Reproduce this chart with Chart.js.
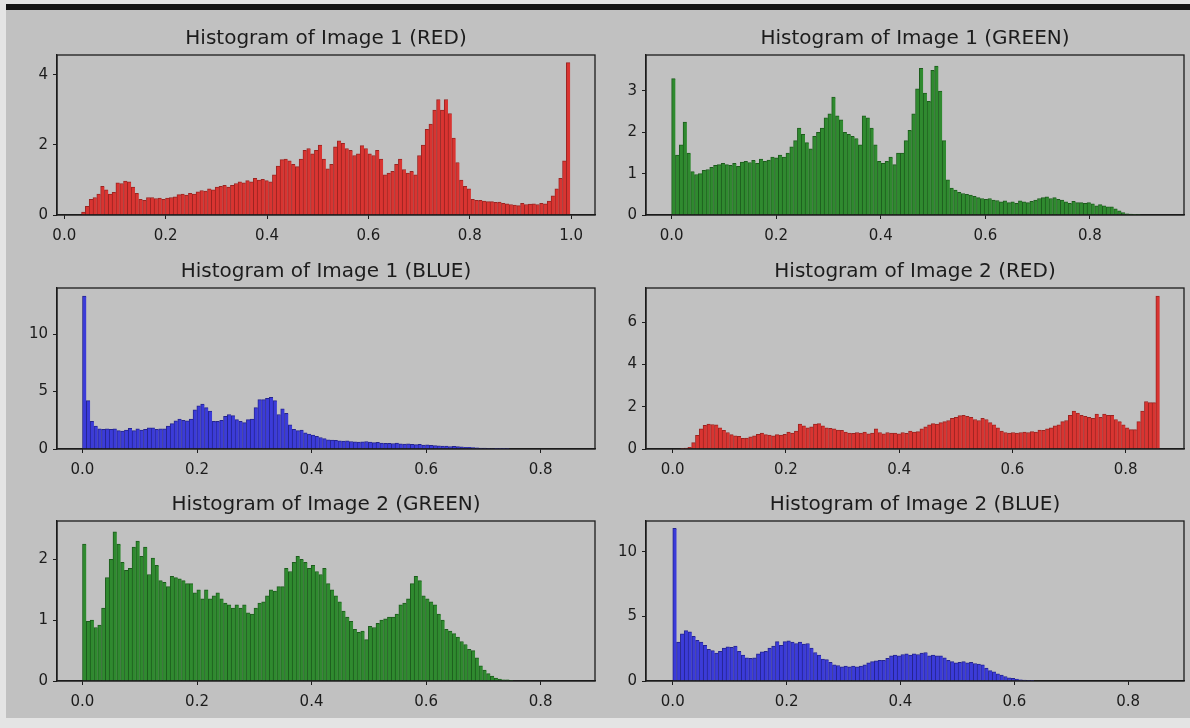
<!DOCTYPE html>
<html><head><meta charset="utf-8">
<script src="https://cdn.jsdelivr.net/npm/chart.js@4.4.1/dist/chart.umd.min.js"></script>
<style>
html,body{margin:0;padding:0;background:#e4e4e4;width:1190px;height:728px;overflow:hidden;}
#panel{position:absolute;left:6px;top:10px;width:1184px;height:708px;background:#c1c1c1;}
#topbar{position:absolute;left:6px;top:4px;width:1184px;height:6px;background:#161616;}
canvas{position:absolute;}
</style></head><body>
<div id="panel"></div><div id="topbar"></div>
<script>
// ---------------- DATA ----------------
const titles = ["Histogram of Image 1 (RED)","Histogram of Image 1 (GREEN)","Histogram of Image 1 (BLUE)",
                "Histogram of Image 2 (RED)","Histogram of Image 2 (GREEN)","Histogram of Image 2 (BLUE)"];

// histogram bin ranges [first edge, last edge]
const red1Range = [0.034, 0.998];
const green1Range = [0.0, 0.933];
const blue1Range = [0.0, 0.852];
const red2Range = [0.0, 0.86];
const green2Range = [0.0, 0.852];
const blue2Range = [0.0, 0.855];

// density values per bin (128 bins each)
const red1Values = [
0.08,0.25,0.45,0.5,0.6,0.82,0.72,0.6,0.65,0.92,0.9,0.97,0.95,0.8,0.62,0.45,
0.42,0.5,0.5,0.47,0.48,0.45,0.48,0.5,0.52,0.58,0.6,0.57,0.62,0.6,0.66,0.7,
0.68,0.75,0.72,0.8,0.82,0.85,0.8,0.85,0.9,0.95,0.92,0.98,0.95,1.05,1.0,1.02,
0.98,0.95,1.15,1.4,1.58,1.6,1.55,1.45,1.38,1.6,1.85,1.9,1.75,1.85,2.0,1.6,
1.32,1.45,1.95,2.12,2.05,1.9,1.85,1.7,1.75,1.98,1.9,1.75,1.7,1.85,1.6,1.15,
1.2,1.25,1.45,1.6,1.3,1.2,1.25,1.15,1.7,2.0,2.45,2.6,3.0,3.3,3.0,3.3,
2.9,2.2,1.5,1.0,0.82,0.75,0.45,0.42,0.42,0.4,0.38,0.38,0.36,0.37,0.33,0.32,
0.3,0.28,0.27,0.33,0.3,0.31,0.32,0.3,0.33,0.32,0.4,0.55,0.75,1.05,1.55,4.35];

const green1Values = [
3.3,1.45,1.7,2.25,1.5,1.05,0.98,1.0,1.08,1.1,1.15,1.2,1.22,1.25,1.22,1.2,
1.25,1.18,1.28,1.3,1.27,1.32,1.25,1.35,1.3,1.33,1.4,1.38,1.45,1.4,1.5,1.65,
1.8,2.1,1.95,1.75,1.6,1.9,2.0,2.1,2.35,2.45,2.85,2.4,2.3,2.0,1.95,1.9,
1.85,1.7,2.4,2.35,2.1,1.7,1.3,1.25,1.3,1.4,1.22,1.5,1.5,1.8,2.05,2.45,
3.05,3.55,2.95,2.75,3.5,3.6,3.0,1.8,0.85,0.65,0.6,0.55,0.52,0.5,0.48,0.45,
0.42,0.4,0.38,0.4,0.36,0.35,0.32,0.34,0.3,0.32,0.28,0.34,0.32,0.3,0.33,0.36,
0.4,0.42,0.44,0.4,0.42,0.38,0.36,0.32,0.28,0.33,0.3,0.3,0.28,0.3,0.27,0.22,
0.25,0.22,0.2,0.2,0.15,0.1,0.06,0.03,0.02,0.01,0.005,0,0,0,0,0];

const blue1Values = [
13.3,4.2,2.4,2.0,1.75,1.7,1.75,1.7,1.75,1.6,1.55,1.65,1.8,1.6,1.75,1.65,
1.7,1.85,1.85,1.7,1.75,1.75,2.0,2.2,2.45,2.6,2.5,2.45,2.6,3.4,3.75,3.9,
3.6,3.3,2.4,2.4,2.5,2.85,3.0,2.9,2.55,2.4,2.3,2.55,2.6,3.6,4.3,4.3,
4.4,4.5,4.2,3.0,3.5,3.1,2.1,1.7,1.6,1.65,1.4,1.3,1.2,1.1,1.0,0.9,
0.8,0.78,0.75,0.7,0.68,0.7,0.65,0.62,0.6,0.62,0.65,0.6,0.55,0.58,0.52,0.5,
0.5,0.48,0.52,0.45,0.42,0.45,0.4,0.38,0.4,0.35,0.36,0.32,0.3,0.28,0.25,0.25,
0.22,0.24,0.2,0.18,0.15,0.14,0.12,0.1,0.08,0.08,0.06,0.04,0.02,0.01,0.01,0.005,
0,0,0,0,0,0,0,0,0,0,0,0,0,0,0,0];

const red2Values = [
0,0,0.01,0.04,0.08,0.3,0.65,0.95,1.12,1.18,1.16,1.14,1.0,0.88,0.78,0.68,
0.62,0.6,0.5,0.52,0.58,0.62,0.7,0.75,0.68,0.66,0.62,0.68,0.66,0.7,0.8,0.75,
0.85,1.18,1.1,1.0,1.05,1.18,1.2,1.1,1.0,0.98,0.95,0.9,0.88,0.8,0.75,0.74,
0.78,0.75,0.8,0.72,0.75,0.95,0.78,0.72,0.78,0.75,0.75,0.72,0.78,0.74,0.85,0.8,
0.82,0.95,1.05,1.15,1.2,1.18,1.25,1.3,1.35,1.45,1.5,1.58,1.6,1.55,1.5,1.4,
1.35,1.45,1.4,1.25,1.15,1.0,0.85,0.78,0.75,0.78,0.75,0.78,0.8,0.78,0.82,0.8,
0.9,0.88,0.95,1.0,1.1,1.15,1.3,1.35,1.6,1.8,1.7,1.6,1.55,1.5,1.45,1.65,
1.5,1.65,1.6,1.6,1.4,1.3,1.15,1.0,0.92,0.92,1.3,1.8,2.25,2.2,2.2,7.25];

const green2Values = [
2.25,0.98,1.0,0.88,0.92,1.2,1.7,2.0,2.45,2.25,1.95,1.82,1.85,2.2,2.3,2.05,
2.2,1.75,2.02,1.9,1.65,1.62,1.55,1.72,1.7,1.68,1.65,1.6,1.6,1.45,1.5,1.35,
1.5,1.35,1.4,1.45,1.35,1.28,1.25,1.2,1.25,1.2,1.25,1.12,1.1,1.2,1.28,1.3,
1.4,1.5,1.48,1.55,1.55,1.85,1.8,1.95,2.05,2.0,1.95,1.85,1.9,1.8,1.75,1.85,
1.6,1.5,1.4,1.3,1.15,1.05,0.98,0.85,0.8,0.82,0.68,0.9,0.88,0.95,1.0,1.02,
1.05,1.05,1.1,1.25,1.28,1.35,1.6,1.72,1.65,1.4,1.35,1.3,1.25,1.1,1.0,0.85,
0.82,0.78,0.72,0.65,0.6,0.52,0.5,0.38,0.25,0.18,0.12,0.08,0.05,0.03,0.02,0.02,
0.01,0,0,0,0,0,0,0,0,0,0,0,0,0,0,0];

const blue2Values = [
11.8,3.0,3.65,3.9,3.8,3.45,3.15,3.0,2.75,2.45,2.35,2.15,2.3,2.55,2.65,2.6,
2.7,2.3,2.0,1.8,1.75,1.8,2.1,2.25,2.3,2.55,2.7,3.05,2.75,3.05,3.1,3.0,
2.9,3.0,2.85,2.9,2.55,2.2,2.0,1.7,1.65,1.45,1.25,1.2,1.1,1.15,1.1,1.15,
1.1,1.15,1.25,1.4,1.5,1.55,1.6,1.6,1.75,1.95,2.0,1.95,2.05,2.1,2.0,2.1,
2.05,2.15,2.2,1.95,2.0,1.95,1.95,1.8,1.6,1.5,1.4,1.45,1.5,1.4,1.45,1.35,
1.3,1.25,1.0,0.8,0.7,0.55,0.45,0.35,0.25,0.2,0.15,0.1,0.08,0.05,0.02,0,
0,0,0,0,0,0,0,0,0,0,0,0,0,0,0,0,
0,0,0,0,0,0,0,0,0,0,0,0,0,0,0,0];

// axis limits and tick labels
const xLimits = [[-0.0144,1.047],[-0.049,0.980],[-0.0445,0.895],[-0.047,0.903],[-0.0445,0.895],[-0.047,0.898]];
const yMaxes = [4.57, 3.87, 14.0, 7.63, 2.63, 12.37];
const xTicks1 = [0,0.2,0.4,0.6,0.8,1.0];
const xTicksOther = [0,0.2,0.4,0.6,0.8];
const yTicksRed1 = [0,2,4];
const yTicksGreen1 = [0,1,2,3];
const yTicksBlue1 = [0,5,10];
const yTicksRed2 = [0,2,4,6];
const yTicksGreen2 = [0,1,2];
const yTicksBlue2 = [0,5,10];

// ---------------- STYLE / LAYOUT ----------------
const palette = {
  red:   {fill:'#d93431', edge:'#9b2421'},
  green: {fill:'#2f8a2f', edge:'#1d5c1d'},
  blue:  {fill:'#3b3bd9', edge:'#25258f'}
};
// plot box rectangles [left, top, right, bottom] in page pixels
const boxes = [[57,55,595,215],[646,55,1184,215],[57,288,595,449],[646,288,1184,449],[57,521,595,681],[646,521,1184,681]];

const specs = [
  {values:red1Values, range:red1Range, color:'red', xt:xTicks1, yt:yTicksRed1},
  {values:green1Values, range:green1Range, color:'green', xt:xTicksOther, yt:yTicksGreen1},
  {values:blue1Values, range:blue1Range, color:'blue', xt:xTicksOther, yt:yTicksBlue1},
  {values:red2Values, range:red2Range, color:'red', xt:xTicksOther, yt:yTicksRed2},
  {values:green2Values, range:green2Range, color:'green', xt:xTicksOther, yt:yTicksGreen2},
  {values:blue2Values, range:blue2Range, color:'blue', xt:xTicksOther, yt:yTicksBlue2}
];

const AXW = 57, TITLEH = 36, XAXH = 38, RPAD = 4;
const TXT = '#1c1c1c';
const FONT = 'DejaVu Sans';
const TITLESIZE = 20;

const framePlugin = {
  id:'frame',
  afterDraw(c){
    const a=c.chartArea, ctx=c.ctx;
    ctx.save(); ctx.strokeStyle=TXT; ctx.lineWidth=1.3;
    ctx.strokeRect(a.left, a.top, a.right-a.left, a.bottom-a.top);
    ctx.restore();
  }
};

specs.forEach((s,k)=>{
  const b = boxes[k];
  const cv = document.createElement('canvas');
  const w = AXW + (b[2]-b[0]) + RPAD, h = TITLEH + (b[3]-b[1]) + XAXH;
  cv.width = w; cv.height = h;
  cv.style.left = (b[0]-AXW)+'px'; cv.style.top = (b[1]-TITLEH)+'px';
  cv.style.width = w+'px'; cv.style.height = h+'px';
  document.body.appendChild(cv);
  const n = s.values.length, bw = (s.range[1]-s.range[0])/n;
  const pts = s.values.map((v,i)=>({x: s.range[0] + (i+0.5)*bw, y: v}));
  const col = palette[s.color];
  new Chart(cv.getContext('2d'), {
    type:'bar',
    data:{datasets:[{data:pts, backgroundColor:col.fill, borderColor:col.edge,
      borderWidth:{left:1, top:1, right:0, bottom:0}, borderSkipped:false,
      barPercentage:1, categoryPercentage:1}]},
    options:{
      responsive:false, animation:false, events:[], devicePixelRatio:1,
      layout:{padding:{left:0, right:RPAD, top:0, bottom:0}},
      plugins:{
        legend:{display:false}, tooltip:{enabled:false},
        title:{display:true, fullSize:false, text:titles[k], color:TXT,
          font:{family:FONT, size:TITLESIZE, weight:'normal', lineHeight:1.2},
          padding:{top:TITLEH-TITLESIZE*1.2-4, bottom:4}}
      },
      scales:{
        x:{type:'linear', min:xLimits[k][0], max:xLimits[k][1], offset:false,
          afterBuildTicks: sc=>{ sc.ticks = s.xt.map(v=>({value:v})); },
          afterFit: sc=>{ sc.height = XAXH; },
          ticks:{color:TXT, font:{family:FONT, size:15}, padding:8, maxRotation:0, autoSkip:false,
            callback:v=>Number(v).toFixed(1)},
          grid:{drawOnChartArea:false, drawTicks:true, tickLength:4, color:TXT, offset:false},
          border:{display:true, color:TXT, width:1.3}},
        y:{min:0, max:yMaxes[k],
          afterBuildTicks: sc=>{ sc.ticks = s.yt.map(v=>({value:v})); },
          afterFit: sc=>{ sc.width = AXW; },
          ticks:{color:TXT, font:{family:FONT, size:15}, padding:5, autoSkip:false,
            callback:v=>String(v)},
          grid:{drawOnChartArea:false, drawTicks:true, tickLength:4, color:TXT},
          border:{display:true, color:TXT, width:1.3}}
      }
    },
    plugins:[framePlugin]
  });
});
</script>
</body></html>
